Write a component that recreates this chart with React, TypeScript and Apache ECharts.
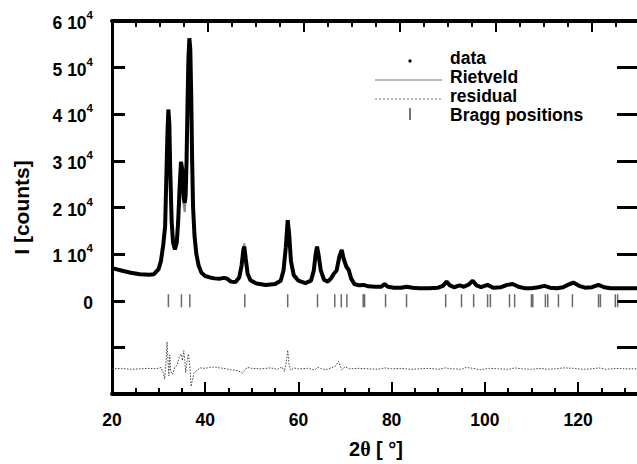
import { useEffect, useRef } from "react";
import * as echarts from "echarts";

const TWO_THETA = [20,22,24,26,28,29,30,30.5,31,31.4,31.7,31.9,32.1,32.3,32.5,32.8,33.1,33.5,33.9,34.2,34.5,34.8,35.1,35.4,35.6,35.8,36.0,36.2,36.4,36.6,36.8,37.0,37.2,37.4,37.7,38.1,38.6,39.2,40,41,42,43,44,44.6,45.5,46.5,47.3,47.8,48.2,48.4,48.7,49.1,49.7,51,53,55,56.2,56.8,57.3,57.7,58.0,58.4,59,60,61.5,62.7,63.3,63.7,64.0,64.3,64.8,65.5,66.3,67.0,67.6,68.2,68.8,69.3,69.7,70.3,70.8,71.3,72,73,74,75,76.5,77.8,78.5,79.2,80.5,82,83.2,84.5,86,88,90,91,91.8,92.5,93.4,94.6,95.5,96.6,97.4,98.2,99.2,100.6,101.8,103.5,104.8,106,107.2,108.5,110,111.5,112.8,114,115.5,116.8,117.8,119,120.2,121.5,123,124.4,125.6,127,129,131,133.5];

const OBSERVED = [7000,6500,6000,5700,5600,5700,6800,8500,12000,16000,28000,36000,41000,38000,28000,17000,12500,11000,12500,17000,24000,29800,28000,22000,21000,22500,30000,42000,52000,56300,54000,44000,30000,20000,14000,10000,7500,6000,5300,5000,4800,4700,4900,4800,4100,4000,5000,7500,11000,11600,9000,5800,4400,3700,3400,3600,4300,6500,11500,17300,14500,8500,5500,4300,3800,4300,6500,10000,11600,10000,6500,4500,4100,4800,5800,6500,9500,10900,9000,7300,6600,4800,3600,3300,3400,3100,3000,3000,3600,3000,2800,2800,3000,2800,2700,2700,2800,3200,4100,3300,2900,3300,3000,3500,4300,3300,2900,3400,2800,2900,3400,3600,3000,2700,2700,2900,3200,2800,2700,2900,3400,3900,3200,2800,2900,3400,2900,2700,2700,2700,2700];

const CALCULATED = [7000,6500,6000,5700,5600,5700,6800,8500,12000,16000,28000,36000,41000,38000,28000,17000,12500,11000,12500,17000,24000,29800,28000,20500,19000,21500,30000,42000,52000,56300,54000,44000,30000,20000,14000,10000,7500,6000,5300,5000,4800,4700,4900,4800,4100,4000,5000,7500,11400,12300,9000,5800,4400,3700,3400,3600,4300,6500,11500,17100,14500,8500,5500,4300,3800,4300,6500,10000,11600,10000,6500,4500,4100,4800,5800,6500,9500,10900,9000,7300,6600,4800,3600,3300,3400,3100,3000,3000,3600,3000,2800,2800,3000,2800,2700,2700,2800,3200,4100,3300,2900,3300,3000,3500,4300,3300,2900,3400,2800,2900,3400,3600,3000,2700,2700,2900,3200,2800,2700,2900,3400,3900,3200,2800,2900,3400,2900,2700,2700,2700,2700];

const RESID_THETA = [20,22,24,26,28,29.5,30.5,31.0,31.3,31.6,31.8,32.0,32.2,32.4,32.6,33.0,33.5,34.0,34.4,34.8,35.1,35.4,35.6,35.8,36.1,36.4,36.7,37.0,37.2,37.6,38.2,39,40,41,42,43,44,45.5,47,48.0,48.5,49,50,52,54,55.5,56.5,57.0,57.4,57.7,58.0,58.4,59,60,62,63.5,64.2,65,66,67,68,68.6,69.3,70,71,73,75,77,78.6,80,82,84,86,88,90,91.6,93,95,96,97.5,99,101,103,105,106.5,108,110,112,113.5,115,117,119,121,123,124.5,126,128,130,133.5];

const RESIDUAL = [0,100,-100,0,100,0,300,-800,-2200,1500,5800,2000,-1500,3000,-600,-1200,400,800,2500,3200,1800,3900,2000,-800,1500,3200,600,-3800,-2600,-1000,-300,200,100,300,400,200,100,-200,-400,-900,-300,300,100,0,200,-100,400,-600,1500,4000,800,-300,200,0,100,-200,300,0,-200,200,600,1600,-200,400,0,100,0,-100,200,0,100,-100,0,100,-100,200,0,-100,300,100,-200,100,0,-100,200,0,-100,100,-100,0,200,100,-100,0,200,-100,100,0,0];

const RESIDUAL_OFFSET = -14600;

const BRAGG_POSITIONS = [32.1,34.9,36.7,48.5,57.7,64.1,67.8,69.2,70.4,73.9,74.2,78.7,83.2,91.6,95.0,97.6,100.6,101.2,105.3,106.4,110.0,110.3,113.0,113.5,115.8,118.8,124.4,124.8,128.0,128.5];

const Y_LABELED_MIN = 0;
const LEGEND_LABELS = ["data", "Rietveld", "residual", "Bragg positions"];

const FONT = "'Liberation Sans', Arial, Helvetica, sans-serif";

export default function App() {
  const ref = useRef<HTMLDivElement>(null);
  useEffect(() => {
    const chart = echarts.init(ref.current!, null, { renderer: "svg" });
    const obs = TWO_THETA.map((t, i) => [t, OBSERVED[i]]);
    const calc = TWO_THETA.map((t, i) => [t, CALCULATED[i]]);
    const resid = RESID_THETA.map((t, i) => [t, RESIDUAL[i] + RESIDUAL_OFFSET]);
    const bragg = BRAGG_POSITIONS.map((t) => [t, 0]);

    const legendX = 450;
    const legendY = [59, 78, 97, 116];
    const legendText = LEGEND_LABELS.map((l, i) => ({
      type: "text",
      left: legendX,
      top: legendY[i] - 10,
      style: { text: l, font: `bold 17.5px ${FONT}`, fill: "#000" },
    }));

    chart.setOption({
      animation: false,
      backgroundColor: "#fff",
      grid: { left: 112, right: 20, top: 21, bottom: 70, containLabel: false },
      xAxis: [
        {
          type: "value",
          position: "bottom",
          min: 20,
          max: 133.3,
          interval: 20,
          name: "{a|2}{t|θ}{a| [ °]}",
          nameLocation: "middle",
          nameGap: 45,
          nameTextStyle: {
            rich: {
              a: { fontFamily: FONT, fontWeight: "bold", fontSize: 20, color: "#000" },
              t: { fontFamily: "'Liberation Serif', 'DejaVu Serif', serif", fontWeight: "bold", fontSize: 20, color: "#000" },
            },
          },
          axisLine: { show: true, onZero: false, lineStyle: { color: "#000", width: 4 } },
          axisTick: { show: true, inside: true, length: 12, lineStyle: { color: "#000", width: 2 } },
          minorTick: { show: true, splitNumber: 4, length: 6, lineStyle: { color: "#000", width: 2 } },
          axisLabel: {
            margin: 17,
            showMaxLabel: false,
            fontFamily: FONT,
            fontWeight: "bold",
            fontSize: 17.5,
            color: "#000",
          },
          splitLine: { show: false },
        },
        {
          type: "value",
          position: "top",
          min: 20,
          max: 130,
          interval: 20,
          axisLine: { show: true, onZero: false, lineStyle: { color: "#000", width: 4 } },
          axisTick: { show: true, inside: true, length: 11, lineStyle: { color: "#000", width: 2 } },
          minorTick: { show: true, splitNumber: 4, length: 6, lineStyle: { color: "#000", width: 2 } },
          axisLabel: { show: false },
          splitLine: { show: false },
        },
      ],
      yAxis: [
        {
          type: "value",
          position: "left",
          min: -20000,
          max: 60000,
          interval: 10000,
          name: "I [counts]",
          nameLocation: "middle",
          nameGap: 80,
          nameRotate: 90,
          nameTextStyle: { fontFamily: FONT, fontWeight: "bold", fontSize: 21, color: "#000" },
          axisLine: { show: true, onZero: false, lineStyle: { color: "#000", width: 3 } },
          axisTick: { show: true, inside: true, length: 13, lineStyle: { color: "#000", width: 3 } },
          axisLabel: {
            margin: 19,
            formatter: (v: number) =>
              v === Y_LABELED_MIN ? "{n|0}" : v > 0 ? `{n|${v / 10000} 10}{s|4}` : "",
            rich: {
              n: { fontFamily: FONT, fontWeight: "bold", fontSize: 17.5, lineHeight: 22, color: "#000", verticalAlign: "bottom" },
              s: { fontFamily: FONT, fontWeight: "bold", fontSize: 11.5, lineHeight: 11, color: "#000", verticalAlign: "bottom", padding: [0, 0, 11, 0] },
            },
          },
          splitLine: { show: false },
        },
        {
          type: "value",
          position: "right",
          min: -20000,
          max: 60000,
          interval: 10000,
          axisLine: { show: true, onZero: false, lineStyle: { color: "#000", width: 3 } },
          axisTick: { show: true, inside: true, length: 23, lineStyle: { color: "#000", width: 3 } },
          axisLabel: { show: false },
          splitLine: { show: false },
        },
      ],
      series: [
        {
          name: "Rietveld",
          type: "line",
          xAxisIndex: 0,
          yAxisIndex: 0,
          data: calc,
          symbol: "none",
          lineStyle: { color: "#8a8a8a", width: 2 },
          z: 2,
        },
        {
          name: "data",
          type: "line",
          xAxisIndex: 0,
          yAxisIndex: 0,
          data: obs,
          symbol: "none",
          lineStyle: { color: "#000", width: 4 },
          z: 3,
        },
        {
          name: "residual",
          type: "line",
          xAxisIndex: 0,
          yAxisIndex: 0,
          data: resid,
          symbol: "none",
          lineStyle: { color: "#444", width: 1, type: [1.5, 1.5] },
          z: 2,
        },
        {
          name: "Bragg positions",
          type: "scatter",
          xAxisIndex: 0,
          yAxisIndex: 0,
          data: bragg,
          symbol: "rect",
          symbolSize: [1.5, 13],
          itemStyle: { color: "#444" },
          z: 2,
        },
      ],
      graphic: [
        { type: "circle", shape: { cx: 410, cy: 61, r: 1.6 }, style: { fill: "#000" } },
        { type: "line", shape: { x1: 375, y1: 80, x2: 442, y2: 80 }, style: { stroke: "#777", lineWidth: 1 } },
        { type: "line", shape: { x1: 375, y1: 99, x2: 442, y2: 99 }, style: { stroke: "#777", lineWidth: 1, lineDash: [2, 2] } },
        { type: "line", shape: { x1: 410, y1: 108, x2: 410, y2: 120 }, style: { stroke: "#444", lineWidth: 1.5 } },
        ...legendText,
      ],
    });
    return () => chart.dispose();
  }, []);
  return (
    <div style={{ position: "fixed", left: 0, top: 0, width: 637, height: 464, overflow: "hidden", background: "#fff" }}>
      <div ref={ref} style={{ width: 660, height: 464 }} />
    </div>
  );
}
